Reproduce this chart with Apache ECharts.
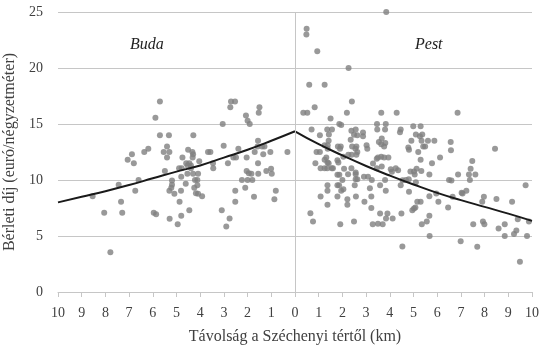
<!DOCTYPE html>
<html>
<head>
<meta charset="utf-8">
<script src="https://cdn.jsdelivr.net/npm/echarts@6/dist/echarts.min.js"></script>
<style>
    html, body { margin: 0; padding: 0; background: #fff; }
    #chart { width: 539px; height: 349px; }
</style>
</head>
<body>
<div id="chart"></div>
<script>
// távolság a Széchenyi tértől (km) és bérleti díj (euró/m2)
const budaDist = [5.7, 5.89, 5.7, 5.32, 5.4, 5.54, 5.3, 5.4, 6.36, 6.19, 7.06, 6.88, 6.8, 5.49, 5.19, 5.19, 5.22, 5.3, 5.09, 6.6,
    7.44, 6.74, 8.54, 7.34, 8.05, 7.29, 5.96, 5.86, 5.29, 4.95, 7.79, 2.7, 2.53, 2.73, 1.5, 1.53, 2.07, 2.0, 1.91, 3.05,
    4.29, 1.56, 3.01, 1.58, 1.39, 1.29, 2.39, 4.51, 4.33, 4.3, 4.32, 3.67, 3.57, 1.7, 1.04, 0.32, 1.34, 4.75, 2.6, 2.49,
    2.04, 4.04, 4.59, 4.46, 4.39, 4.53, 3.46, 3.45, 2.83, 1.56, 4.89, 4.78, 4.39, 1.01, 1.21, 0.98, 2.04, 1.95, 1.84, 4.54,
    4.3, 4.09, 1.55, 4.8, 4.22, 4.12, 2.24, 2.0, 1.8, 4.61, 4.12, 4.25, 2.1, 4.81, 2.52, 0.81, 4.18, 4.09, 3.92, 1.73,
    0.87, 4.87, 2.52, 4.46, 3.09, 4.8, 2.76, 2.9];
const budaRent = [17.0, 15.55, 14.0, 14.0, 13.0, 12.5, 12.5, 12.0, 12.5, 12.8, 11.8, 12.3, 11.5, 10.8, 9.96, 9.57, 9.3, 9.03, 8.77, 10.0,
    9.57, 9.04, 8.56, 8.05, 7.07, 7.07, 7.07, 6.95, 6.53, 6.05, 3.55, 17.0, 17.0, 16.5, 16.5, 16.0, 15.76, 15.3, 15.0, 15.0,
    14.0, 13.5, 13.05, 13.0, 13.0, 13.0, 12.8, 12.7, 12.5, 12.3, 12.0, 12.5, 12.5, 12.5, 12.5, 12.5, 12.3, 12.0, 12.0, 12.0,
    12.0, 11.68, 11.5, 11.5, 11.3, 11.3, 11.5, 11.05, 11.5, 11.5, 11.05, 11.05, 11.05, 11.0, 10.8, 10.55, 10.8, 10.6, 10.55, 10.55,
    10.55, 10.55, 10.55, 10.3, 10.0, 10.0, 10.0, 10.0, 10.0, 9.66, 9.54, 9.3, 9.3, 9.03, 9.03, 9.03, 8.82, 8.77, 8.56, 8.5,
    8.29, 8.05, 8.05, 7.3, 7.3, 6.8, 6.56, 5.85];

const pestDist = [3.85, 0.49, 0.48, 0.94, 2.26, 0.6, 1.25, 2.4, 0.35, 0.52, 0.83, 2.19, 3.64, 4.29, 6.86, 1.5, 1.87, 1.95, 3.46, 3.83,
    4.99, 5.3, 0.7, 1.36, 1.56, 1.43, 1.05, 2.38, 2.56, 2.87, 2.49, 2.63, 2.87, 2.35, 3.47, 3.8, 4.46, 4.43, 3.66, 3.54,
    3.64, 3.81, 4.91, 1.42, 1.25, 1.38, 1.81, 1.93, 3.02, 3.76, 4.78, 5.1, 5.27, 5.37, 5.34, 5.61, 5.88, 5.41, 5.49, 4.81,
    5.2, 6.57, 6.58, 6.12, 8.44, 2.41, 2.59, 3.05, 1.38, 1.9, 2.55, 5.3, 5.78, 7.48, 7.41, 7.34, 7.61, 5.13, 5.33, 5.05,
    5.67, 6.88, 6.5, 6.6, 7.38, 9.73, 5.1, 5.67, 5.96, 6.05, 5.16, 5.3, 5.08, 6.46, 6.65, 7.07, 7.23, 7.97, 7.9, 8.5,
    9.16, 5.67, 5.56, 5.35, 7.52, 7.93, 7.99, 8.59, 8.85, 9.4, 9.87, 9.34, 9.24, 8.85, 9.79, 5.68, 6.99, 7.69, 9.49, 0.91,
    1.05, 1.32, 1.25, 1.37, 1.42, 1.79, 1.83, 2.04, 2.25, 2.39, 2.59, 2.63, 3.45, 3.5, 3.64, 3.76, 3.94, 3.29, 0.86, 1.08,
    1.25, 1.36, 1.55, 1.6, 2.07, 2.38, 2.56, 3.45, 3.66, 4.04, 4.09, 4.25, 4.35, 4.87, 5.02, 1.79, 1.87, 2.24, 2.56, 2.56,
    2.63, 2.91, 3.08, 3.24, 2.0, 1.37, 1.79, 1.86, 2.52, 3.59, 3.8, 4.46, 4.54, 4.68, 4.8, 1.37, 2.04, 1.95, 3.16, 3.83,
    4.81, 1.08, 1.79, 2.57, 3.22, 2.21, 2.21, 2.93, 1.37, 3.22, 0.65, 0.76, 3.59, 3.9, 4.49, 4.95, 3.84, 4.12, 1.91, 2.49,
    3.28, 3.5, 3.7, 4.53, 5.02, 7.03];
const pestRent = [25.0, 23.5, 23.0, 21.5, 20.0, 18.5, 18.5, 17.0, 16.0, 16.0, 16.5, 16.0, 16.0, 16.0, 16.0, 15.5, 15.0, 14.9, 15.0, 15.0,
    14.8, 14.8, 14.5, 14.5, 14.5, 14.06, 14.0, 14.4, 14.5, 14.24, 14.03, 14.0, 13.9, 13.6, 14.5, 14.5, 14.5, 14.27, 13.7, 13.4,
    13.2, 13.3, 13.5, 13.5, 13.1, 13.1, 13.0, 13.0, 13.1, 13.0, 12.9, 14.06, 13.9, 14.06, 13.5, 13.5, 13.5, 13.0, 13.0, 12.7,
    12.5, 13.4, 12.66, 12.0, 12.8, 13.0, 13.0, 12.8, 12.8, 12.8, 12.8, 11.8, 11.5, 11.7, 11.0, 10.5, 10.5, 11.0, 10.8, 10.5,
    10.5, 10.5, 10.0, 9.96, 10.0, 9.54, 9.8, 8.55, 8.8, 8.05, 8.05, 8.05, 7.55, 7.55, 8.5, 8.8, 9.03, 8.5, 8.05, 8.3,
    8.05, 6.8, 6.3, 6.05, 6.05, 6.3, 6.05, 5.67, 6.05, 6.5, 6.3, 5.5, 5.17, 5.0, 5.0, 5.0, 4.54, 4.03, 2.7, 12.5,
    12.5, 12.0, 11.8, 11.56, 11.5, 11.77, 11.56, 12.07, 12.25, 12.25, 12.25, 12.5, 11.9, 12.0, 12.07, 12.0, 12.0, 11.47, 11.5, 11.05,
    11.05, 11.05, 11.05, 11.05, 11.0, 11.05, 10.67, 11.05, 11.2, 10.96, 10.73, 11.05, 10.88, 10.76, 10.76, 10.46, 10.46, 10.52, 10.52, 10.07,
    10.07, 10.3, 10.3, 10.0, 10.0, 9.54, 9.54, 9.54, 9.54, 9.54, 10.0, 9.54, 9.98, 10.0, 10.07, 9.03, 9.18, 9.03, 9.27, 9.03,
    8.95, 8.53, 8.53, 8.53, 8.53, 8.29, 7.78, 8.05, 7.78, 7.51, 7.04, 6.3, 7.0, 7.0, 7.0, 7.3, 6.56, 6.56, 6.05, 6.3,
    6.05, 6.1, 6.05, 4.06, 7.45, 8.86];

// illesztett görbék, kilométerenként leolvasva (0..10 km)
const trendKm = [0, 1, 2, 3, 4, 5, 6, 7, 8, 9, 10];
const budaTrend = [14.35, 13.5, 12.7, 12.0, 11.3, 10.75, 10.15, 9.55, 9.0, 8.5, 8.0];
const pestTrend = [14.35, 13.2, 12.2, 11.25, 10.4, 9.6, 8.85, 8.2, 7.6, 7.0, 6.35];

const xTicks = [-10, 10, 1];
const yTicks = [0, 25, 5];

const fontFamily = '"Liberation Serif", "DejaVu Serif", serif';
const textColor = '#404040';
const gridColor = '#c6c6c6';

let chartElem = document.getElementById('chart');
let chart = echarts.init(chartElem, null, { renderer: 'canvas' });

let points = budaDist.map((d, i) => [-d, budaRent[i]])
    .concat(pestDist.map((d, i) => [d, pestRent[i]]));

let option = {
    animation: false,
    backgroundColor: '#fff',
    textStyle: { fontFamily: fontFamily },
    grid: { left: 58, right: 7, top: 12, bottom: 57, containLabel: false, outerBoundsMode: 'none' },
    xAxis: {
        type: 'value',
        min: xTicks[0],
        max: xTicks[1],
        interval: xTicks[2],
        name: 'Távolság a Széchenyi tértől (km)',
        nameLocation: 'middle',
        nameGap: 37,
        nameTextStyle: { fontSize: 16, color: textColor, fontFamily: fontFamily },
        axisLine: { show: true, lineStyle: { color: gridColor, width: 1 } },
        axisTick: { show: true, length: 5, lineStyle: { color: gridColor } },
        axisLabel: {
            margin: 14,
            fontSize: 14,
            color: textColor,
            fontFamily: fontFamily,
            formatter: v => String(Math.abs(v))
        },
        splitLine: { show: false }
    },
    yAxis: {
        type: 'value',
        min: yTicks[0],
        max: yTicks[1],
        interval: yTicks[2],
        name: 'Bérleti díj (euró/négyzetméter)',
        nameLocation: 'middle',
        nameGap: 36,
        nameTextStyle: { fontSize: 16, color: textColor, fontFamily: fontFamily },
        axisLine: { show: false },
        axisTick: { show: false },
        axisLabel: { margin: 15, fontSize: 14, color: textColor, fontFamily: fontFamily },
        splitLine: { show: true, lineStyle: { color: gridColor, width: 1 } }
    },
    graphic: [
        {
            type: 'text', left: 130, top: 37,
            style: { text: 'Buda', font: 'italic 16px ' + fontFamily, fill: '#222' }
        },
        {
            type: 'text', left: 415, top: 37,
            style: { text: 'Pest', font: 'italic 16px ' + fontFamily, fill: '#222' }
        }
    ],
    series: [
        {
            name: 'lakások',
            type: 'scatter',
            symbol: 'circle',
            symbolSize: 6,
            itemStyle: { color: '#7f7f7f' },
            data: points,
            markLine: {
                silent: true,
                symbol: 'none',
                label: { show: false },
                lineStyle: { color: gridColor, width: 1, type: 'solid' },
                data: [{ xAxis: 0 }]
            },
            z: 2
        },
        {
            name: 'Buda',
            type: 'line',
            smooth: true,
            showSymbol: false,
            lineStyle: { color: '#1a1a1a', width: 2 },
            data: trendKm.map((d, i) => [-d, budaTrend[i]]),
            z: 3
        },
        {
            name: 'Pest',
            type: 'line',
            smooth: true,
            showSymbol: false,
            lineStyle: { color: '#1a1a1a', width: 2 },
            data: trendKm.map((d, i) => [d, pestTrend[i]]),
            z: 3
        }
    ]
};

chart.setOption(option);
</script>
</body>
</html>
